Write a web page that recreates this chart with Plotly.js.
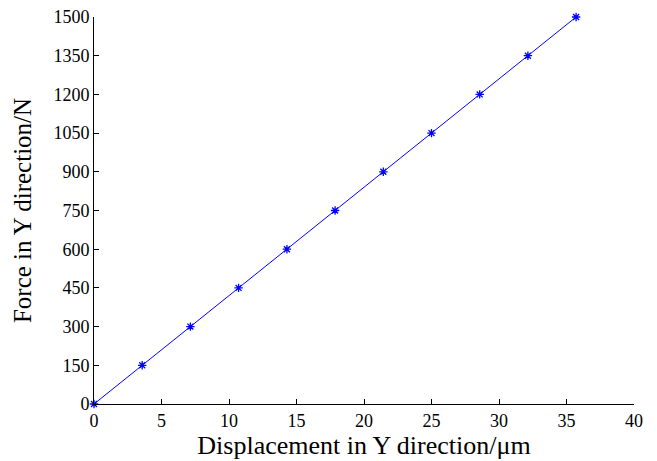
<!DOCTYPE html>
<html><head><meta charset="utf-8">
<script src="https://cdn.plot.ly/plotly-3.0.1.min.js"></script>
<style>html,body{margin:0;padding:0;background:#fff;}#chart{width:657px;height:461px;}</style>
</head><body><div id="chart"></div>
<script>
const displacement = [0, 3.57, 7.14, 10.71, 14.29, 17.86, 21.43, 25.0, 28.57, 32.14, 35.71];
const force = [0, 150, 300, 450, 600, 750, 900, 1050, 1200, 1350, 1500];
const yTicks = [0, 150, 300, 450, 600, 750, 900, 1050, 1200, 1350, 1500];
const xTicks = [0, 5, 10, 15, 20, 25, 30, 35, 40];

const font = 'Liberation Serif, Times New Roman, serif';
Plotly.newPlot('chart', [{
  x: displacement, y: force, type: 'scatter', mode: 'lines+markers',
  line: {color: '#0000ff', width: 1},
  marker: {symbol: 'asterisk-open', size: 7, color: '#0000ff', line: {color: '#0000ff', width: 1.3}},
  cliponaxis: false
}], {
  width: 657, height: 461,
  margin: {l: 94, r: 23, t: 17, b: 57},
  paper_bgcolor: '#fff', plot_bgcolor: '#fff',
  showlegend: false,
  font: {family: font, size: 18, color: '#000'},
  xaxis: {
    range: [0, 40], tickvals: xTicks, ticktext: xTicks.map(String),
    ticks: 'inside', ticklen: 5, tickcolor: '#000', tickwidth: 1,
    showline: true, linecolor: '#000', linewidth: 1, showgrid: false, zeroline: false,
    tickfont: {family: font, size: 18},
    title: {text: 'Displacement in Y direction/μm', font: {family: font, size: 26}, standoff: 1}
  },
  yaxis: {
    range: [0, 1500], tickvals: yTicks, ticktext: yTicks.map(String),
    ticks: 'inside', ticklen: 5, tickcolor: '#000', tickwidth: 1,
    showline: true, linecolor: '#000', linewidth: 1, showgrid: false, zeroline: false,
    tickfont: {family: font, size: 18},
    title: {text: 'Force in Y direction/N', font: {family: font, size: 25}, standoff: 14}
  }
}, {displayModeBar: false, staticPlot: true});
</script></body></html>
